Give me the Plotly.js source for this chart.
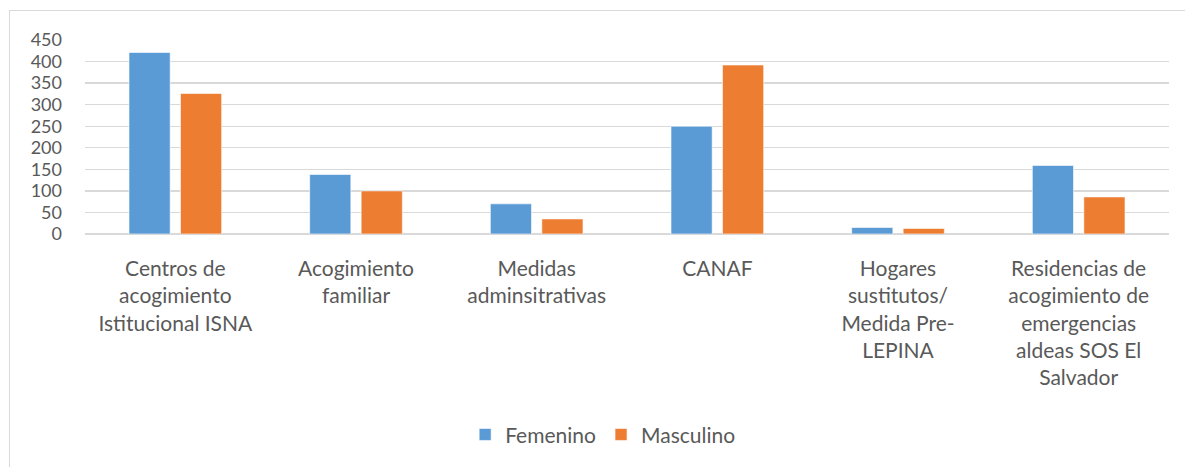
<!DOCTYPE html>
<html>
<head>
<meta charset="utf-8">
<script src="https://cdn.plot.ly/plotly-3.0.1.min.js"></script>
<style>
  html, body { margin: 0; padding: 0; background: #fff; }
  #wrap { position: relative; width: 1185px; height: 467px; overflow: hidden; }
  #frame { position: absolute; left: 9px; top: 10px; width: 1190px; height: 470px;
           border-left: 1px solid #d9d9d9; border-top: 1px solid #d9d9d9; pointer-events: none; }
  #chart { position: absolute; left: 0; top: 0; width: 1185px; height: 467px; }
</style>
</head>
<body>
<div id="wrap">
  <div id="chart"></div>
  <div id="frame"></div>
</div>
<script>
const categories = [
  "Centros de<br>acogimiento<br>Istitucional ISNA",
  "Acogimiento<br>familiar",
  "Medidas<br>adminsitrativas",
  "CANAF",
  "Hogares<br>sustitutos/<br>Medida Pre-<br>LEPINA",
  "Residencias de<br>acogimiento de<br>emergencias<br>aldeas SOS El<br>Salvador"
];
const femenino = [421, 138, 70, 250, 15, 159];
const masculino = [326, 100, 35, 392, 13, 86];
const yTicks = [0, 50, 100, 150, 200, 250, 300, 350, 400, 450];

const family = "Lato, 'Open Sans', sans-serif";
const xFont = { family: family, size: 21, color: "#595959" };
const yFont = { family: family, size: 18, color: "#595959" };

const traces = [
  { type: "bar", name: "Femenino", x: categories, y: femenino,
    marker: { color: "#5B9BD5", line: { color: "rgba(255,255,255,0.6)", width: 1 } } },
  { type: "bar", name: "Masculino", x: categories, y: masculino,
    marker: { color: "#ED7D31", line: { color: "rgba(255,255,255,0.6)", width: 1 } } }
];

const layout = {
  width: 1185, height: 467,
  margin: { l: 85, r: 16, t: 40, b: 233 },
  paper_bgcolor: "rgba(0,0,0,0)", plot_bgcolor: "#fff",
  font: xFont,
  barmode: "group", bargap: 0.43, bargroupgap: 0.2,
  showlegend: true,
  legend: { orientation: "h", x: 0.478, xanchor: "center", y: -1.035, yanchor: "middle",
            font: xFont, traceorder: "normal" },
  xaxis: { type: "category", showgrid: false, zeroline: false, showline: false,
           ticks: "", tickangle: 0, tickfont: xFont, ticklabelstandoff: 20, fixedrange: true },
  yaxis: { range: [0, 450], tickvals: yTicks, ticktext: yTicks.map(String),
           showgrid: true, gridcolor: "#d9d9d9", gridwidth: 1.3,
           zeroline: true, zerolinecolor: "#d9d9d9", zerolinewidth: 1.3,
           showline: false, ticks: "", tickfont: yFont, ticklabelstandoff: 22, fixedrange: true }
};

Plotly.newPlot("chart", traces, layout, { displayModeBar: false, staticPlot: true });
</script>
</body>
</html>
